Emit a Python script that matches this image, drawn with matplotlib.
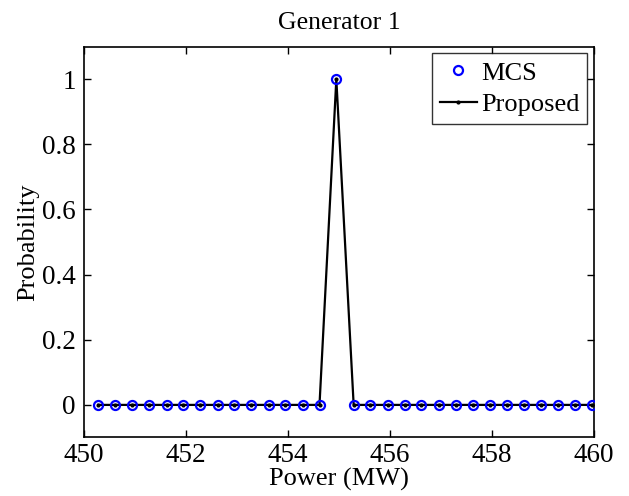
import numpy as np
import matplotlib.pyplot as plt

plt.rcParams['font.family'] = ['Liberation Serif', 'DejaVu Serif']

# power levels (MW) and probabilities
power = [450.28, 450.61, 450.95, 451.28, 451.62, 451.95, 452.28, 452.62, 452.95, 453.28,
         453.62, 453.95, 454.29, 454.62, 454.95, 455.29, 455.62, 455.96, 456.29, 456.62,
         456.96, 457.29, 457.63, 457.96, 458.29, 458.63, 458.96, 459.29, 459.63, 459.96]
mcs = [0, 0, 0, 0, 0, 0, 0, 0, 0, 0, 0, 0, 0, 0, 1.0,
       0, 0, 0, 0, 0, 0, 0, 0, 0, 0, 0, 0, 0, 0, 0]
proposed = [0, 0, 0, 0, 0, 0, 0, 0, 0, 0, 0, 0, 0, 0, 1.0,
            0, 0, 0, 0, 0, 0, 0, 0, 0, 0, 0, 0, 0, 0, 0]

xticks = [450, 452, 454, 456, 458, 460]
yticks = [0, 0.2, 0.4, 0.6, 0.8, 1]

fig = plt.figure(figsize=(6.29, 4.96), dpi=100)
ax = fig.add_axes([0.1335, 0.118, 0.8105, 0.788])

ax.plot(power, mcs, 'o', color='blue', mfc='none', ms=6.5, mew=1.6, label='MCS', zorder=3)
ax.plot(power, proposed, '-', color='black', marker='.', ms=4, lw=1.6, label='Proposed', zorder=2)

ax.set_xlim(450, 460)
ax.set_ylim(-0.1, 1.1)
ax.set_xticks(xticks)
ax.set_yticks(yticks)
ax.set_yticklabels(['0', '0.2', '0.4', '0.6', '0.8', '1'])
ax.tick_params(direction='in', top=True, right=True, labelsize=19.5, length=5, width=1, pad=6)
ax.tick_params(axis='x', pad=4)
for s in ax.spines.values():
    s.set_linewidth(1.2)

ax.set_xlabel('Power (MW)', fontsize=19, labelpad=0)
ax.set_ylabel('Probability', fontsize=19, labelpad=2)
ax.set_title('Generator 1', fontsize=18.5, pad=13)

leg = ax.legend(loc='upper right', fontsize=19, frameon=True, fancybox=False,
                edgecolor='black', handlelength=1.4, handletextpad=0.15,
                borderpad=0.3, labelspacing=0.3, borderaxespad=0.25)
leg.get_frame().set_linewidth(1.0)

fig.savefig('out.png', dpi=100)
